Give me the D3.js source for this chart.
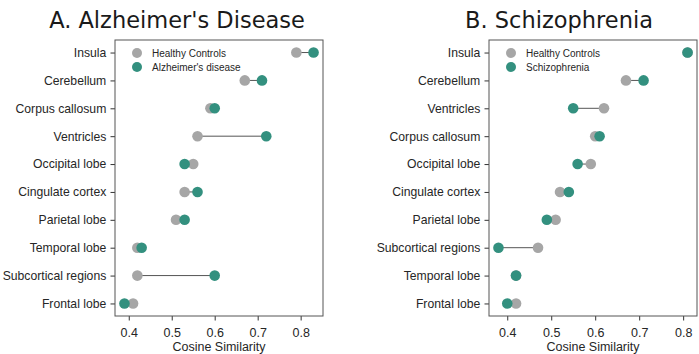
<!DOCTYPE html>
<html>
<head>
<meta charset="utf-8">
<script src="https://cdn.jsdelivr.net/npm/d3@7"></script>
<style>
  body { margin: 0; background: #fff; }
  svg text { font-family: "Liberation Sans", Arial, sans-serif; fill: #262626; }
  .title { font-family: "DejaVu Sans", Verdana, sans-serif; font-size: 22.5px; fill: #1a1a1a; }
</style>
</head>
<body>
<svg id="chart" width="699" height="354"></svg>
<script>

/*************************************/
/*               Data                */
/*************************************/
const adRegions = ["Insula", "Cerebellum", "Corpus callosum", "Ventricles", "Occipital lobe",
  "Cingulate cortex", "Parietal lobe", "Temporal lobe", "Subcortical regions", "Frontal lobe"];
const adControls = [0.79, 0.67, 0.59, 0.56, 0.55, 0.53, 0.51, 0.42, 0.42, 0.41];
const adPatients = [0.83, 0.71, 0.60, 0.72, 0.53, 0.56, 0.53, 0.43, 0.60, 0.39];

const szRegions = ["Insula", "Cerebellum", "Ventricles", "Corpus callosum", "Occipital lobe",
  "Cingulate cortex", "Parietal lobe", "Subcortical regions", "Temporal lobe", "Frontal lobe"];
const szControls = [0.81, 0.67, 0.62, 0.60, 0.59, 0.52, 0.51, 0.47, 0.42, 0.42];
const szPatients = [0.81, 0.71, 0.55, 0.61, 0.56, 0.54, 0.49, 0.38, 0.42, 0.40];

const xTicks = [0.4, 0.5, 0.6, 0.7, 0.8];

const grey = "#a6a6a6";
const teal = "#33907f";

const panels = [
  { title: "A. Alzheimer's Disease", titleX: 177, left: 115, regions: adRegions,
    controls: adControls, patients: adPatients, label: "Alzheimer's disease" },
  { title: "B. Schizophrenia", titleX: 559, left: 489, regions: szRegions,
    controls: szControls, patients: szPatients, label: "Schizophrenia" }
];

const boxWidth = 208;
const boxTop = 40;
const boxBottom = 316;
const boxHeight = boxBottom - boxTop;

const svg = d3.select("#chart");

/*************************************/
/*          Draw one panel           */
/*************************************/
const drawPanel = (p) => {

  const rows = p.regions.map((r, i) => ({ region: r, hc: p.controls[i], pt: p.patients[i] }));

  const [lo, hi] = d3.extent(p.controls.concat(p.patients));
  const pad = (hi - lo) * 0.05;

  const xScale = d3.scaleLinear()
    .domain([lo - pad, hi + pad])
    .range([0, boxWidth]);

  const yScale = d3.scalePoint()
    .domain(p.regions)
    .range([0, boxHeight])
    .padding(0.45);

  svg.append("text")
    .attr("class", "title")
    .attr("x", p.titleX)
    .attr("y", 28)
    .attr("text-anchor", "middle")
    .text(p.title);

  const g = svg.append("g")
    .attr("transform", `translate(${p.left}, ${boxTop})`);

  // x axis
  const xAxis = g.append("g")
    .attr("transform", `translate(0, ${boxHeight})`)
    .call(d3.axisBottom(xScale).tickValues(xTicks).tickFormat(d3.format(".1f")).tickSizeOuter(0).tickSize(4.5));
  xAxis.select(".domain").remove();
  xAxis.selectAll("line").attr("stroke", "#333");
  xAxis.selectAll("text").attr("font-size", 12.5).attr("dy", "1.05em").attr("fill", "#262626");

  // y axis
  const yAxis = g.append("g")
    .call(d3.axisLeft(yScale).tickSizeOuter(0).tickSize(4.5));
  yAxis.select(".domain").remove();
  yAxis.selectAll("line").attr("stroke", "#333");
  yAxis.selectAll("text").attr("font-size", 12.2).attr("dx", "-0.1em").attr("fill", "#262626");

  g.append("text")
    .attr("x", boxWidth / 2)
    .attr("y", 311)
    .attr("text-anchor", "middle")
    .attr("font-size", 12.5)
    .text("Cosine Similarity");

  // connectors
  g.selectAll(".link")
    .data(rows)
    .join("line")
      .attr("class", "link")
      .attr("x1", d => xScale(d.hc))
      .attr("x2", d => xScale(d.pt))
      .attr("y1", d => yScale(d.region))
      .attr("y2", d => yScale(d.region))
      .attr("stroke", "#555")
      .attr("stroke-width", 1);

  g.selectAll(".hc")
    .data(rows)
    .join("circle")
      .attr("class", "hc")
      .attr("cx", d => xScale(d.hc))
      .attr("cy", d => yScale(d.region))
      .attr("r", 5.3)
      .attr("fill", grey);

  g.selectAll(".pt")
    .data(rows)
    .join("circle")
      .attr("class", "pt")
      .attr("cx", d => xScale(d.pt))
      .attr("cy", d => yScale(d.region))
      .attr("r", 5.3)
      .attr("fill", teal);

  // legend
  const legend = g.append("g").attr("transform", "translate(22, 13)");
  [["Healthy Controls", grey], [p.label, teal]].forEach(([t, c], i) => {
    legend.append("circle").attr("cx", 0).attr("cy", i * 14).attr("r", 5).attr("fill", c);
    legend.append("text")
      .attr("x", 15)
      .attr("y", i * 14)
      .attr("dy", "0.35em")
      .attr("font-size", 10)
      .text(t);
  });

  // frame
  g.append("rect")
    .attr("width", boxWidth)
    .attr("height", boxHeight)
    .attr("fill", "none")
    .attr("stroke", "#555")
    .attr("stroke-width", 1);

};

panels.forEach(drawPanel);

</script>
</body>
</html>
